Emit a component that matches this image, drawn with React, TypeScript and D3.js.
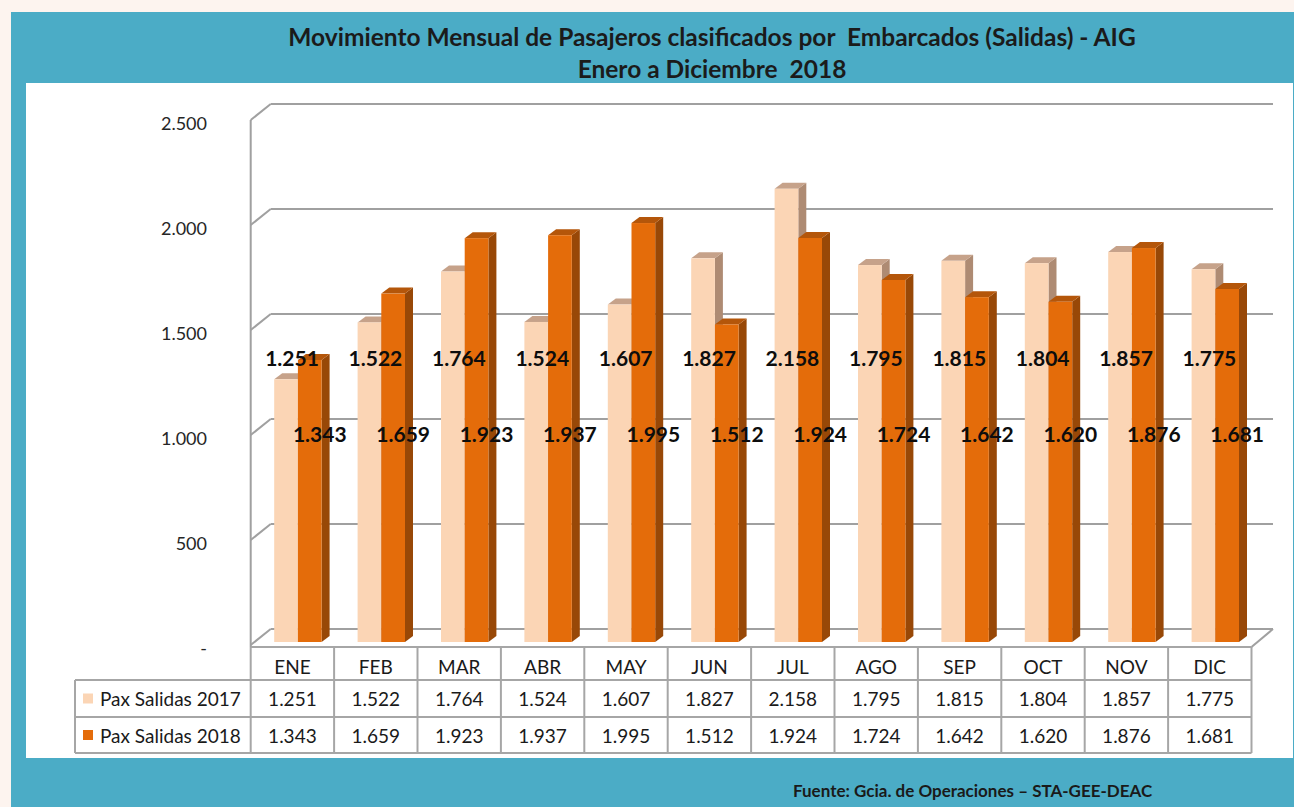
import React from "react";
import * as d3 from "d3";

const months = ["ENE", "FEB", "MAR", "ABR", "MAY", "JUN", "JUL", "AGO", "SEP", "OCT", "NOV", "DIC"];
const pax2017 = [1251, 1522, 1764, 1524, 1607, 1827, 2158, 1795, 1815, 1804, 1857, 1775];
const pax2018 = [1343, 1659, 1923, 1937, 1995, 1512, 1924, 1724, 1642, 1620, 1876, 1681];
const seriesNames = ["Pax Salidas 2017", "Pax Salidas 2018"];
const yTicks = [0, 500, 1000, 1500, 2000, 2500];

const W = 1294;
const H = 807;
const FONT = "Lato, 'Open Sans', sans-serif";
const TEAL = "#4BACC6";

const fmt = (v: number) => (v === 0 ? "-" : d3.format(",")(v).replace(/,/g, "."));

const colors = [
  { front: "#FBD5B5", top: "#C6A28A", side: "#AE8B73" },
  { front: "#E46C0A", top: "#B4560A", side: "#984807" },
];

export default function App() {
  const x = d3.scaleBand<string>().domain(months).range([250.7, 1251.5]).paddingInner(0).paddingOuter(0);
  const hScale = d3.scaleLinear().domain([0, 2500]).range([0, 525]);
  const frontY = (v: number) => 645 - hScale(v);
  const backY = (v: number) => 629 - hScale(v);
  const barBase = 642;
  const barW = 23.7;
  const dDx = 8;
  const dDy = -6;
  const wallDx = 20;
  const series = [pax2017, pax2018];

  const bw = x.bandwidth();
  const tableTop = 647;
  const rowLines = [647, 680, 717, 753];

  return (
    <svg width={W} height={H} style={{ position: "absolute", left: 0, top: 0 }} fontFamily={FONT}>
      <rect x={0} y={0} width={W} height={H} fill="#FDF4EF" />
      <rect x={11} y={12} width={W - 11} height={H - 12} fill={TEAL} />
      <rect x={26} y={83} width={1267} height={675} fill="#FFFFFF" />

      {/* Title */}
      <text x={712} y={46} textAnchor="middle" fontSize={24.5} fontWeight="bold" fill="#1B1B1B" style={{ whiteSpace: "pre" }}>
        {"Movimiento Mensual de Pasajeros clasificados por  Embarcados (Salidas) - AIG"}
      </text>
      <text x={712} y={78} textAnchor="middle" fontSize={24.5} fontWeight="bold" fill="#1B1B1B" style={{ whiteSpace: "pre" }}>
        {"Enero a Diciembre  2018"}
      </text>

      {/* walls & gridlines */}
      <line x1={250.7} y1={frontY(2500)} x2={250.7} y2={tableTop} stroke="#A0A0A0" strokeWidth={2} />
      {yTicks.map((t) => (
        <g key={t}>
          <line x1={250.7} y1={frontY(t)} x2={250.7 + wallDx} y2={backY(t)} stroke="#A0A0A0" strokeWidth={2} />
          <line x1={250.7 + wallDx} y1={backY(t)} x2={1273} y2={backY(t)} stroke="#A0A0A0" strokeWidth={2.2} />
          <text x={207} y={frontY(t) + 3} textAnchor="end" dominantBaseline="central" fontSize={18} fill="#262626">
            {fmt(t)}
          </text>
        </g>
      ))}
      <line x1={1251.5} y1={tableTop} x2={1273} y2={backY(0)} stroke="#A0A0A0" strokeWidth={2} />

      {/* bars */}
      {months.map((m, i) => (
        <g key={m}>
          {series.map((s, si) => {
            const x0 = (x(m) as number) + 23.5 + si * barW;
            const x1 = x0 + barW;
            const yt = barBase - hScale(s[i]);
            const c = colors[si];
            return (
              <g key={si}>
                <polygon
                  points={`${x1},${yt} ${x1 + dDx},${yt + dDy} ${x1 + dDx},${barBase + dDy} ${x1},${barBase}`}
                  fill={c.side}
                />
                <polygon
                  points={`${x0},${yt} ${x0 + dDx},${yt + dDy} ${x1 + dDx},${yt + dDy} ${x1},${yt}`}
                  fill={c.top}
                />
                <rect x={x0} y={yt} width={barW} height={barBase - yt} fill={c.front} />
              </g>
            );
          })}
        </g>
      ))}

      {/* data labels */}
      {months.map((m, i) => {
        const xl = (x(m) as number) + 23.5 + barW / 2 + 6;
        const xd = (x(m) as number) + 23.5 + barW * 1.5 + 10;
        return (
          <g key={m} fontSize={21} fontWeight="bold" fill="#0D0D0D" textAnchor="middle">
            <text x={xl} y={frontY(1370)} dominantBaseline="central">{fmt(pax2017[i])}</text>
            <text x={xd} y={frontY(1005)} dominantBaseline="central">{fmt(pax2018[i])}</text>
          </g>
        );
      })}

      {/* data table */}
      <g stroke="#A6A6A6" strokeWidth={2} fill="none">
        <line x1={250.7} y1={rowLines[0]} x2={1251.5} y2={rowLines[0]} />
        <line x1={250.7} y1={rowLines[1]} x2={1251.5} y2={rowLines[1]} />
        <line x1={75} y1={rowLines[1]} x2={250.7} y2={rowLines[1]} />
        <line x1={75} y1={rowLines[2]} x2={1251.5} y2={rowLines[2]} />
        <line x1={75} y1={rowLines[3]} x2={1251.5} y2={rowLines[3]} />
        <line x1={75} y1={rowLines[1]} x2={75} y2={rowLines[3]} />
        {months.map((m) => (
          <line key={m} x1={x(m) as number} y1={rowLines[0]} x2={x(m) as number} y2={rowLines[3]} />
        ))}
        <line x1={1251.5} y1={rowLines[0]} x2={1251.5} y2={rowLines[3]} />
      </g>
      {months.map((m, i) => {
        const cx = (x(m) as number) + bw / 2;
        return (
          <g key={m} fontSize={19} fill="#1A1A1A" textAnchor="middle">
            <text x={cx} y={(rowLines[0] + rowLines[1]) / 2 + 3} dominantBaseline="central">{m}</text>
            <text x={cx} y={(rowLines[1] + rowLines[2]) / 2} dominantBaseline="central">{fmt(pax2017[i])}</text>
            <text x={cx} y={(rowLines[2] + rowLines[3]) / 2} dominantBaseline="central">{fmt(pax2018[i])}</text>
          </g>
        );
      })}
      {seriesNames.map((n, si) => {
        const cy = (rowLines[1 + si] + rowLines[2 + si]) / 2;
        return (
          <g key={n}>
            <rect x={83} y={cy - 5} width={10} height={10} fill={colors[si].front} />
            <text x={100} y={cy} dominantBaseline="central" fontSize={19} fill="#1A1A1A">{n}</text>
          </g>
        );
      })}

      {/* source */}
      <text x={793} y={797} fontSize={17} fontWeight="bold" fill="#1A1A1A">
        Fuente: Gcia. de Operaciones – STA-GEE-DEAC
      </text>
    </svg>
  );
}
